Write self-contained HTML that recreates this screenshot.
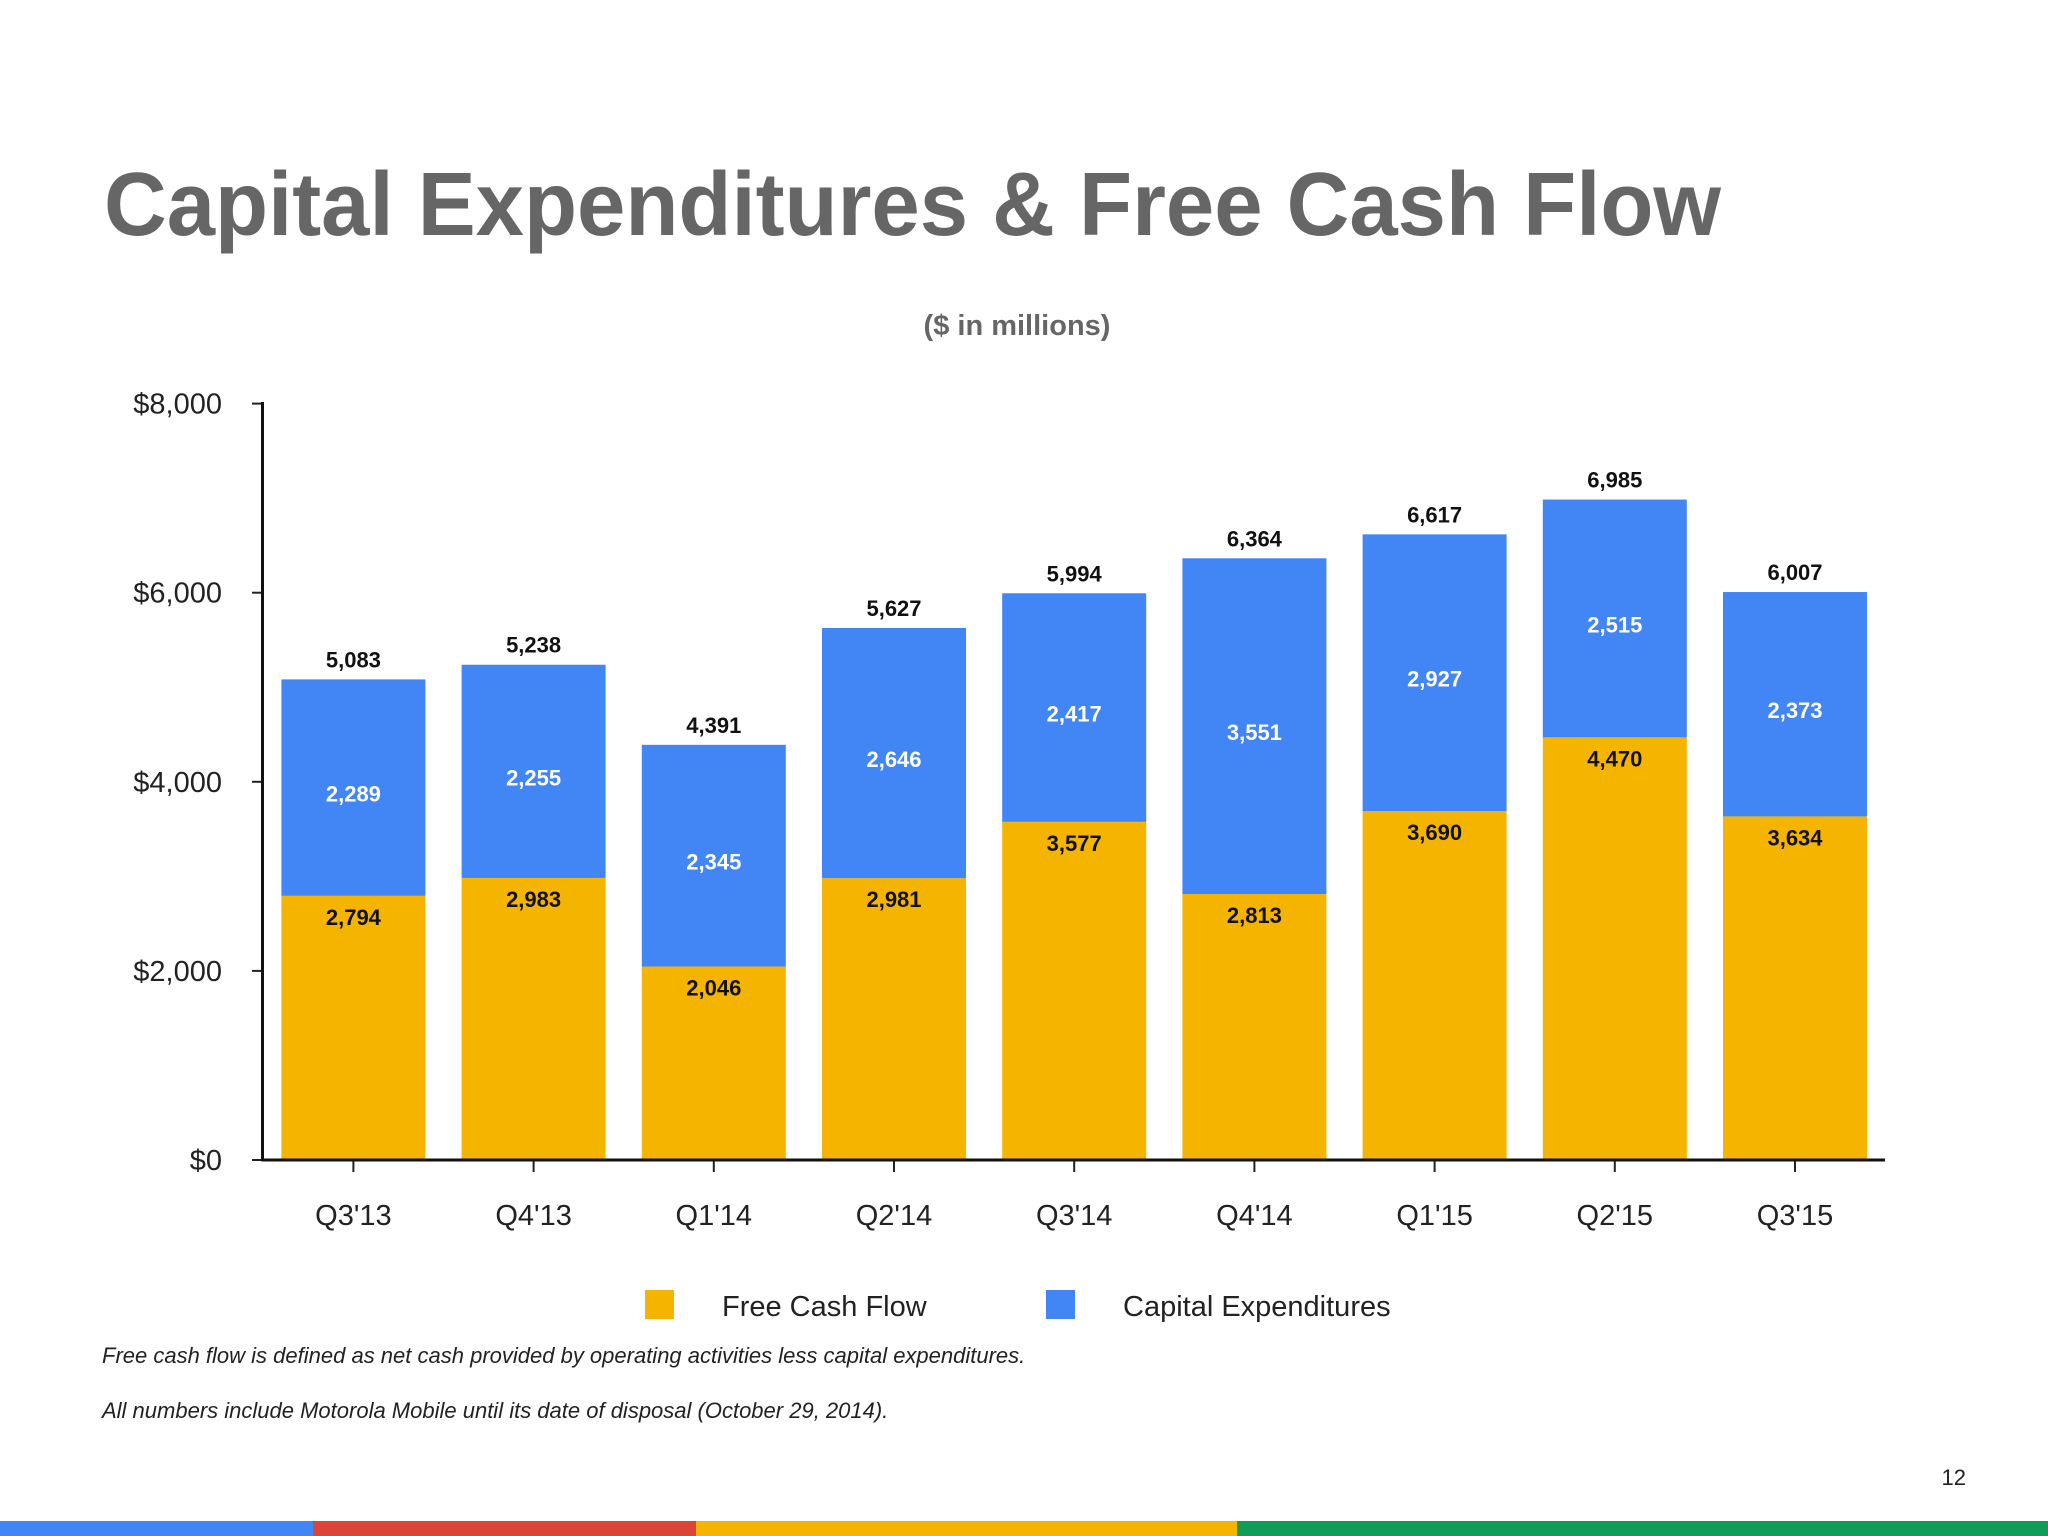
<!DOCTYPE html>
<html><head><meta charset="utf-8"><style>html,body{margin:0;padding:0;background:#fff}svg{display:block}</style></head>
<body>
<svg id="chart" width="2048" height="1536" viewBox="0 0 2048 1536" xmlns="http://www.w3.org/2000/svg" font-family="'Liberation Sans', sans-serif">
<text x="104" y="235" font-size="90" font-weight="bold" fill="#666" textLength="1617" lengthAdjust="spacingAndGlyphs">Capital Expenditures &amp; Free Cash Flow</text>
<text x="1017" y="335" font-size="29" font-weight="bold" fill="#666" text-anchor="middle">($ in millions)</text>
<g id="plot"></g>
<rect x="645" y="1290" width="29" height="29" fill="#F4B400"/>
<text x="722" y="1316" font-size="29" fill="#222">Free Cash Flow</text>
<rect x="1046" y="1290" width="29" height="29" fill="#4285F4"/>
<text x="1123" y="1316" font-size="29" fill="#222">Capital Expenditures</text>
<text x="102" y="1363" font-size="22" font-style="italic" fill="#222">Free cash flow is defined as net cash provided by operating activities less capital expenditures.</text>
<text x="102" y="1418" font-size="22" font-style="italic" fill="#222">All numbers include Motorola Mobile until its date of disposal (October 29, 2014).</text>
<text x="1966" y="1485" font-size="22" fill="#222" text-anchor="end">12</text>
<rect x="0" y="1521" width="313" height="15" fill="#4285F4"/>
<rect x="313" y="1521" width="383" height="15" fill="#DB4437"/>
<rect x="696" y="1521" width="541" height="15" fill="#F4B400"/>
<rect x="1237" y="1521" width="811" height="15" fill="#0F9D58"/>
</svg>
<script>
const categories = ["Q3'13","Q4'13","Q1'14","Q2'14","Q3'14","Q4'14","Q1'15","Q2'15","Q3'15"];
const fcfValues = [2794,2983,2046,2981,3577,2813,3690,4470,3634];
const capexValues = [2289,2255,2345,2646,2417,3551,2927,2515,2373];
const totalValues = [5083,5238,4391,5627,5994,6364,6617,6985,6007];
const yTicks = [0,2000,4000,6000,8000];
const yTickLabels = ["$0","$2,000","$4,000","$6,000","$8,000"];

const NS = "http://www.w3.org/2000/svg";
const plot = document.getElementById('plot');
const x0 = 262.5, xEnd = 1885, firstCenter = 353.4, step = 180.2, barW = 144;
const y = v => 1160 - v * (1160 - 403.6) / 8000;
const xc = i => firstCenter + i * step;
const fmt = v => v.toLocaleString('en-US');
function mk(tag, attrs, text) {
  const el = document.createElementNS(NS, tag);
  for (const k in attrs) el.setAttribute(k, attrs[k]);
  if (text !== undefined) el.textContent = text;
  plot.appendChild(el);
  return el;
}
yTicks.forEach((t, i) => {
  const tk = mk('line', {x1: 252, x2: x0, y1: y(t), y2: y(t), stroke: '#222', 'stroke-width': 2});
  
  
  const lb = mk('text', {x: 222, y: y(t) + 10, 'font-size': 29, fill: '#222', 'text-anchor': 'end'}, yTickLabels[i]);
  
  
});
categories.forEach((c, i) => {
  const cx = xc(i), left = cx - barW / 2;
  const f = fcfValues[i], k = capexValues[i];
  const b1 = mk('rect', {x: left, y: y(f), width: barW, height: y(0) - y(f), fill: '#F4B400'});
  
  
  const b2 = mk('rect', {x: left, y: y(f + k), width: barW, height: y(f) - y(f + k), fill: '#4285F4'});
  
  
  const l1 = mk('text', {x: cx, y: y(f) + 29, 'font-size': 22, 'font-weight': 'bold', fill: '#111', 'text-anchor': 'middle'}, fmt(f));
  
  
  const l2 = mk('text', {x: cx, y: (y(f) + y(f + k)) / 2 + 14, 'font-size': 22, 'font-weight': 'bold', fill: '#fff', 'text-anchor': 'middle'}, fmt(k));
  
  
  const l3 = mk('text', {x: cx, y: y(totalValues[i]) - 12, 'font-size': 22, 'font-weight': 'bold', fill: '#111', 'text-anchor': 'middle'}, fmt(totalValues[i]));
  
  
  const tk = mk('line', {x1: cx, x2: cx, y1: 1160, y2: 1172, stroke: '#222', 'stroke-width': 2});
  
  
  const xl = mk('text', {x: cx, y: 1225, 'font-size': 29, fill: '#222', 'text-anchor': 'middle'}, c);
  
  
});
const ya = mk('line', {x1: x0, x2: x0, y1: 402, y2: 1161, stroke: '#111', 'stroke-width': 3});


const xa = mk('line', {x1: x0 - 1, x2: xEnd, y1: 1160, y2: 1160, stroke: '#111', 'stroke-width': 3});


</script>
</body></html>
